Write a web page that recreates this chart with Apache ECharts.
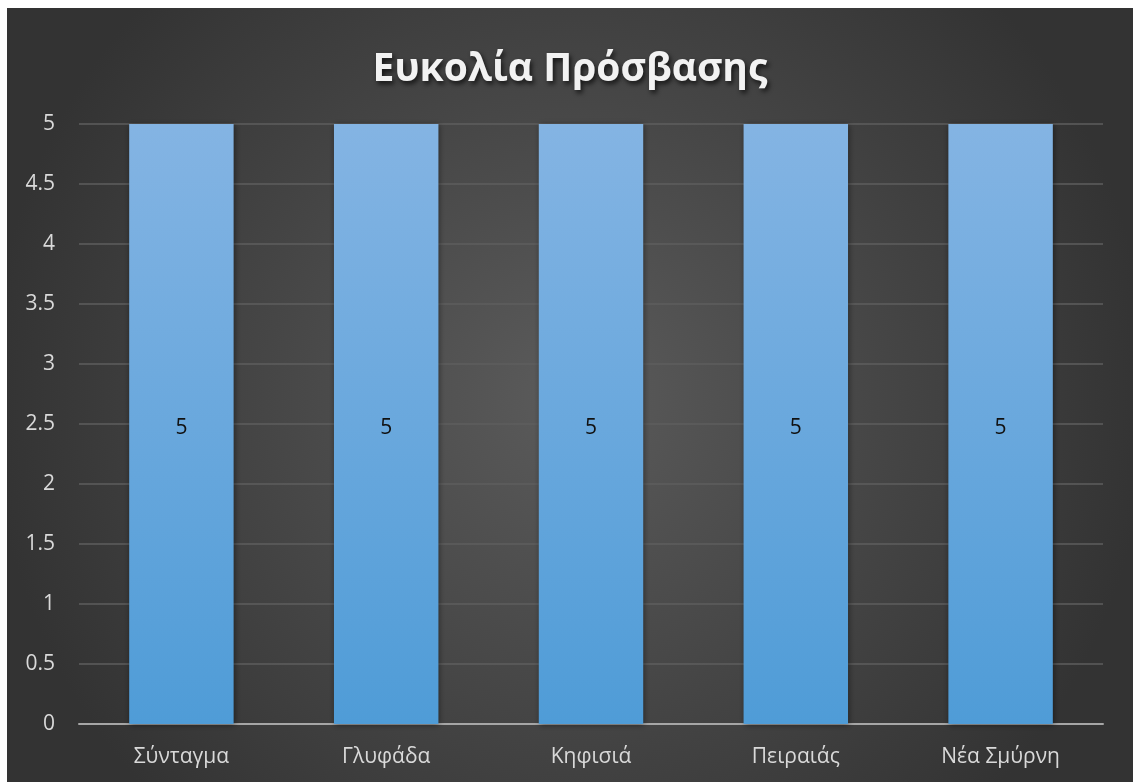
<!DOCTYPE html>
<html><head><meta charset="utf-8">
<script src="https://cdn.jsdelivr.net/npm/echarts@6/dist/echarts.min.js"></script>
<style>
html,body{margin:0;padding:0;background:#fff;}
#c{position:absolute;left:7px;top:8px;width:1126px;height:774px;}
</style></head>
<body><div id="c"></div>
<script>
const titleText = 'Ευκολία Πρόσβασης';
const categories = ['Σύνταγμα', 'Γλυφάδα', 'Κηφισιά', 'Πειραιάς', 'Νέα Σμύρνη'];
const values = [5, 5, 5, 5, 5];
const yTicks = [0, 0.5, 1, 1.5, 2, 2.5, 3, 3.5, 4, 4.5, 5];

const chart = echarts.init(document.getElementById('c'), null, {renderer: 'canvas'});
const font = '"Open Sans", "Noto Sans", sans-serif';
chart.setOption({
  backgroundColor: {
    type: 'radial', x: 0.5, y: 0.5, r: 0.75,
    colorStops: [{offset: 0, color: '#5b5b5b'}, {offset: 1, color: '#333333'}]
  },
  animation: false,
  title: {
    text: titleText, left: 'center', top: 37,
    textStyle: {
      color: '#f2f2f2', fontSize: 39, fontWeight: 'bold', fontFamily: font,
      textShadowColor: 'rgba(0,0,0,0.7)', textShadowBlur: 5, textShadowOffsetX: 2, textShadowOffsetY: 3
    }
  },
  grid: {left: 72, right: 30, top: 116, bottom: 58, containLabel: false},
  xAxis: {
    type: 'category', data: categories,
    axisLine: {lineStyle: {color: '#a6a6a6', width: 2}},
    axisTick: {show: false},
    axisLabel: {color: '#d9d9d9', fontSize: 21, fontFamily: font, margin: 23}
  },
  yAxis: {
    type: 'value', min: yTicks[0], max: yTicks[yTicks.length - 1], interval: 0.5,
    axisLine: {show: false}, axisTick: {show: false},
    axisLabel: {color: '#d9d9d9', fontSize: 21, fontFamily: font, margin: 24},
    splitLine: {lineStyle: {color: '#5e5e5e', width: 1.5}}
  },
  series: [{
    type: 'bar', data: values, barWidth: '51%',
    itemStyle: {
      color: {type: 'linear', x: 0, y: 0, x2: 0, y2: 1,
        colorStops: [{offset: 0, color: '#84b4e3'}, {offset: 1, color: '#4f9cd7'}]},
      shadowColor: 'rgba(0,0,0,0.45)', shadowBlur: 6, shadowOffsetX: 1, shadowOffsetY: 1
    },
    label: {show: true, position: 'inside', offset: [0, 4], color: '#111', fontSize: 21, fontFamily: font}
  }]
});
</script></body></html>
